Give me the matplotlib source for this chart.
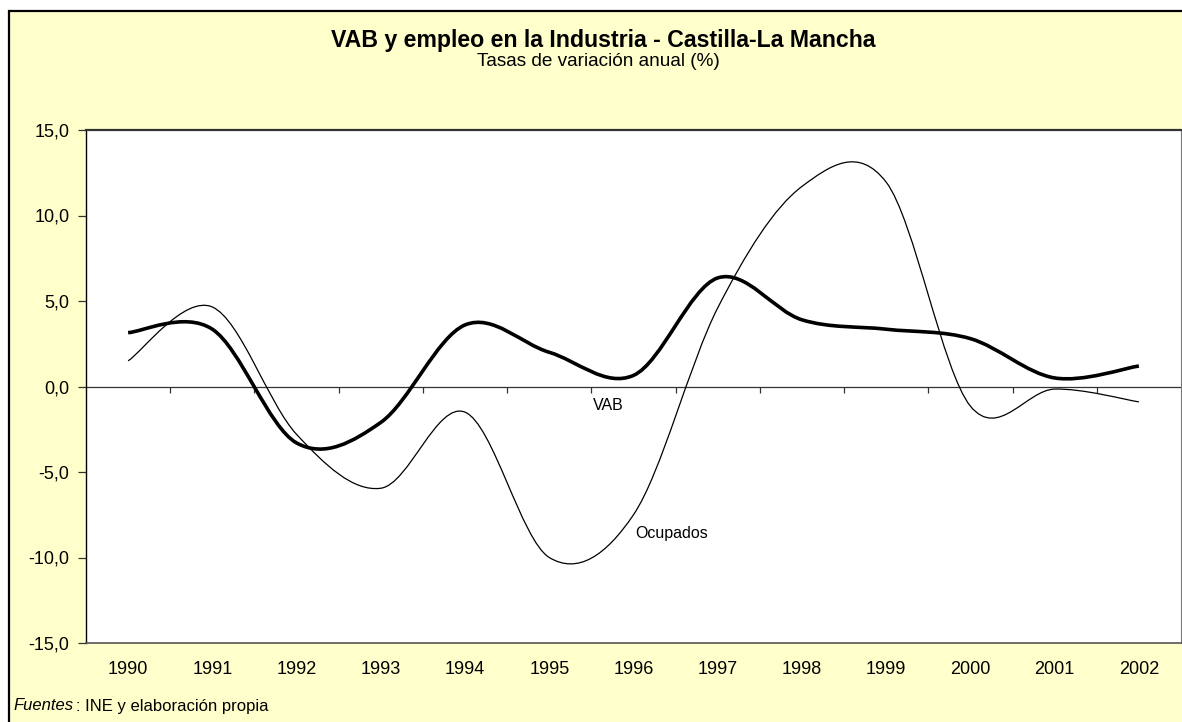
import matplotlib
matplotlib.use('Agg')
import matplotlib.pyplot as plt
from matplotlib.path import Path
from matplotlib.patches import PathPatch, Rectangle
from matplotlib.ticker import FuncFormatter

plt.rcParams['font.family'] = ['Liberation Sans', 'DejaVu Sans']

years = ['1990', '1991', '1992', '1993', '1994', '1995', '1996',
         '1997', '1998', '1999', '2000', '2001', '2002']
vab = [3.15, 3.35, -3.3, -2.1, 3.6, 2.0, 0.65, 6.35, 3.9, 3.35, 2.8, 0.5, 1.2]
ocupados = [1.5, 4.65, -2.8, -5.95, -1.5, -10.0, -7.5, 4.6, 11.7, 11.95, -1.15, -0.15, -0.9]


def smooth_path(xs, ys):
    # curva suavizada tipo Excel (Catmull-Rom -> Bezier cubica)
    pts = list(zip(xs, ys))
    verts = [pts[0]]
    codes = [Path.MOVETO]
    n = len(pts)
    for i in range(n - 1):
        p0 = pts[i - 1] if i > 0 else pts[i]
        p1 = pts[i]
        p2 = pts[i + 1]
        p3 = pts[i + 2] if i + 2 < n else pts[i + 1]
        c1 = (p1[0] + (p2[0] - p0[0]) / 6, p1[1] + (p2[1] - p0[1]) / 6)
        c2 = (p2[0] - (p3[0] - p1[0]) / 6, p2[1] - (p3[1] - p1[1]) / 6)
        verts += [c1, c2, p2]
        codes += [Path.CURVE4] * 3
    return Path(verts, codes)


fig = plt.figure(figsize=(11.82, 7.22), dpi=100)
fig.patch.set_facecolor('white')

# marco exterior amarillo
fig.patches.append(Rectangle((9 / 1182, -0.05), 1.2, 1.05 - 11 / 722,
                             transform=fig.transFigure, facecolor='#FFFFCC',
                             edgecolor='black', linewidth=1.6, zorder=-10))

ax = fig.add_axes([86 / 1182, 1 - 643 / 722, (1181 - 86) / 1182, (643 - 130) / 722])
ax.set_zorder(1)
ax.set_facecolor('white')

x = list(range(len(years)))
ax.add_patch(PathPatch(smooth_path(x, ocupados), facecolor='none',
                       edgecolor='black', linewidth=0.9, zorder=3))
ax.add_patch(PathPatch(smooth_path(x, vab), facecolor='none',
                       edgecolor='black', linewidth=2.6, zorder=4))

ax.set_xlim(-0.5, len(years) - 0.5)
ax.set_ylim(-15, 15)

# eje de categorias en 0
ax.axhline(0, color='#333333', linewidth=0.9, zorder=2)
ax.vlines([i + 0.5 for i in range(len(years) - 1)], -0.38, 0,
          color='#333333', linewidth=0.9, zorder=2)

ax.set_xticks(x)
ax.set_xticklabels(years)
ax.tick_params(axis='x', length=0, pad=13, labelsize=13)
ax.set_yticks([-15, -10, -5, 0, 5, 10, 15])
ax.yaxis.set_major_formatter(FuncFormatter(lambda v, p: f'{v:.1f}'.replace('.', ',')))
ax.tick_params(axis='y', direction='out', length=6, width=0.9, pad=6,
               labelsize=13, color='#333333')

ax.spines['left'].set_color('black')
ax.spines['left'].set_linewidth(1.0)
ax.spines['top'].set_color('#333333')
ax.spines['top'].set_linewidth(1.6)
ax.spines['right'].set_color('#777777')
ax.spines['bottom'].set_color('#555555')
ax.spines['bottom'].set_linewidth(1.2)

ax.text(5.7, -1.1, 'VAB', fontsize=11.5, ha='center', va='center')
ax.text(6.45, -8.6, 'Ocupados', fontsize=11.5, ha='center', va='center')

fig.text(603 / 1182, 1 - 40 / 722, 'VAB y empleo en la Industria - Castilla-La Mancha',
         fontsize=16.7, fontweight='bold', ha='center', va='center')
fig.text(598 / 1182, 1 - 61 / 722, 'Tasas de variación anual (%)',
         fontsize=13.7, ha='center', va='center')

fig.text(13 / 1182, 1 - 706 / 722, 'Fuentes', fontsize=12, style='italic',
         ha='left', va='center')
fig.text(76 / 1182, 1 - 706 / 722, ': INE y elaboración propia', fontsize=12,
         ha='left', va='center')

fig.savefig('out.png', dpi=100)
